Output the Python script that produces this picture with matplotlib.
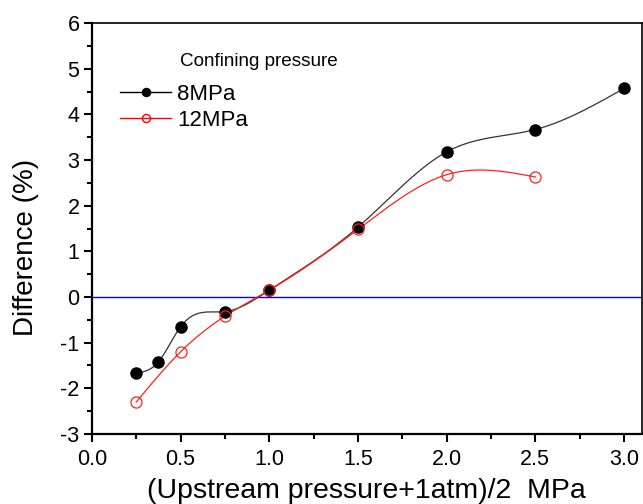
import numpy as np
import matplotlib.pyplot as plt
from matplotlib.ticker import MultipleLocator

plt.rcParams['font.family'] = ['Liberation Sans', 'DejaVu Sans']

# Difference vs mean pressure, two confining pressures
x_8 = [0.25, 0.375, 0.5, 0.75, 1.0, 1.5, 2.0, 2.5, 3.0]
y_8 = [-1.67, -1.42, -0.65, -0.32, 0.15, 1.53, 3.18, 3.67, 4.57]
x_12 = [0.25, 0.5, 0.75, 1.0, 1.5, 2.0, 2.5]
y_12 = [-2.30, -1.20, -0.42, 0.15, 1.48, 2.68, 2.63]


def natural_spline(x, y, n=300):
    # plain natural cubic spline, solved with numpy
    x = np.asarray(x, float)
    y = np.asarray(y, float)
    k = len(x)
    h = np.diff(x)
    A = np.zeros((k, k))
    b = np.zeros(k)
    A[0, 0] = A[-1, -1] = 1.0
    for i in range(1, k - 1):
        A[i, i - 1] = h[i - 1]
        A[i, i] = 2 * (h[i - 1] + h[i])
        A[i, i + 1] = h[i]
        b[i] = 6 * ((y[i + 1] - y[i]) / h[i] - (y[i] - y[i - 1]) / h[i - 1])
    M = np.linalg.solve(A, b)
    xs = np.linspace(x[0], x[-1], n)
    idx = np.clip(np.searchsorted(x, xs) - 1, 0, k - 2)
    x0, x1 = x[idx], x[idx + 1]
    hh = x1 - x0
    ys = (M[idx] * (x1 - xs) ** 3 / (6 * hh) + M[idx + 1] * (xs - x0) ** 3 / (6 * hh)
          + (y[idx] / hh - M[idx] * hh / 6) * (x1 - xs)
          + (y[idx + 1] / hh - M[idx + 1] * hh / 6) * (xs - x0))
    return xs, ys


fig = plt.figure(figsize=(6.43, 5.04), dpi=100)
ax = fig.add_axes([0.143, 0.139, 0.855, 0.815])

ax.axhline(0, color='#0000ff', lw=1.0, zorder=1)

xs, ys = natural_spline(x_8, y_8)
ax.plot(xs, ys, color='#333333', lw=0.9, zorder=2)
ax.plot(x_8, y_8, 'o', color='black', ms=8, zorder=4)

xs, ys = natural_spline(x_12, y_12)
ax.plot(xs, ys, color='#ff2020', lw=0.9, zorder=3)
ax.plot(x_12, y_12, 'o', mfc='none', mec='#ff2020', mew=0.9, ms=8, zorder=5)

# legend
h8, = ax.plot([], [], '-o', color='black', lw=1.0, ms=5.8)
h12, = ax.plot([], [], '-o', color='#ff0000', mfc='none', lw=1.0, ms=5.8)
ax.legend([h8, h12], ['8MPa', '12MPa'], loc='upper left',
          bbox_to_anchor=(0.051, 0.852), frameon=False, fontsize=16,
          borderpad=0, borderaxespad=0,
          handlelength=2.3, handletextpad=0.27, labelspacing=0.22)
ax.text(0.16, 0.9075, 'Confining pressure', transform=ax.transAxes,
        fontsize=13.6, va='center', ha='left')

ax.set_xlim(0, 3.1)
ax.set_ylim(-3, 6)
ax.xaxis.set_major_locator(MultipleLocator(0.5))
ax.xaxis.set_minor_locator(MultipleLocator(0.25))
ax.yaxis.set_major_locator(MultipleLocator(1))
ax.yaxis.set_minor_locator(MultipleLocator(0.5))
ax.xaxis.set_major_formatter(plt.FormatStrFormatter('%.1f'))
ax.yaxis.set_major_formatter(plt.FormatStrFormatter('%d'))

ax.tick_params(which='both', direction='out', top=False, right=False,
               labelsize=15.5, width=1.5)
ax.tick_params(which='major', length=6)
ax.tick_params(which='minor', length=3.3)
ax.tick_params(axis='x', pad=5)
ax.tick_params(axis='y', pad=3)
for side in ['left', 'bottom']:
    ax.spines[side].set_linewidth(1.6)
for side in ['top', 'right']:
    ax.spines[side].set_linewidth(1.2)

ax.set_xlabel('(Upstream pressure+1atm)/2  MPa', fontsize=20.5, labelpad=5.5)
ax.set_ylabel('Difference (%)', fontsize=20)
ax.yaxis.set_label_coords(-0.096, 0.455)

fig.savefig('out.png', dpi=100)
